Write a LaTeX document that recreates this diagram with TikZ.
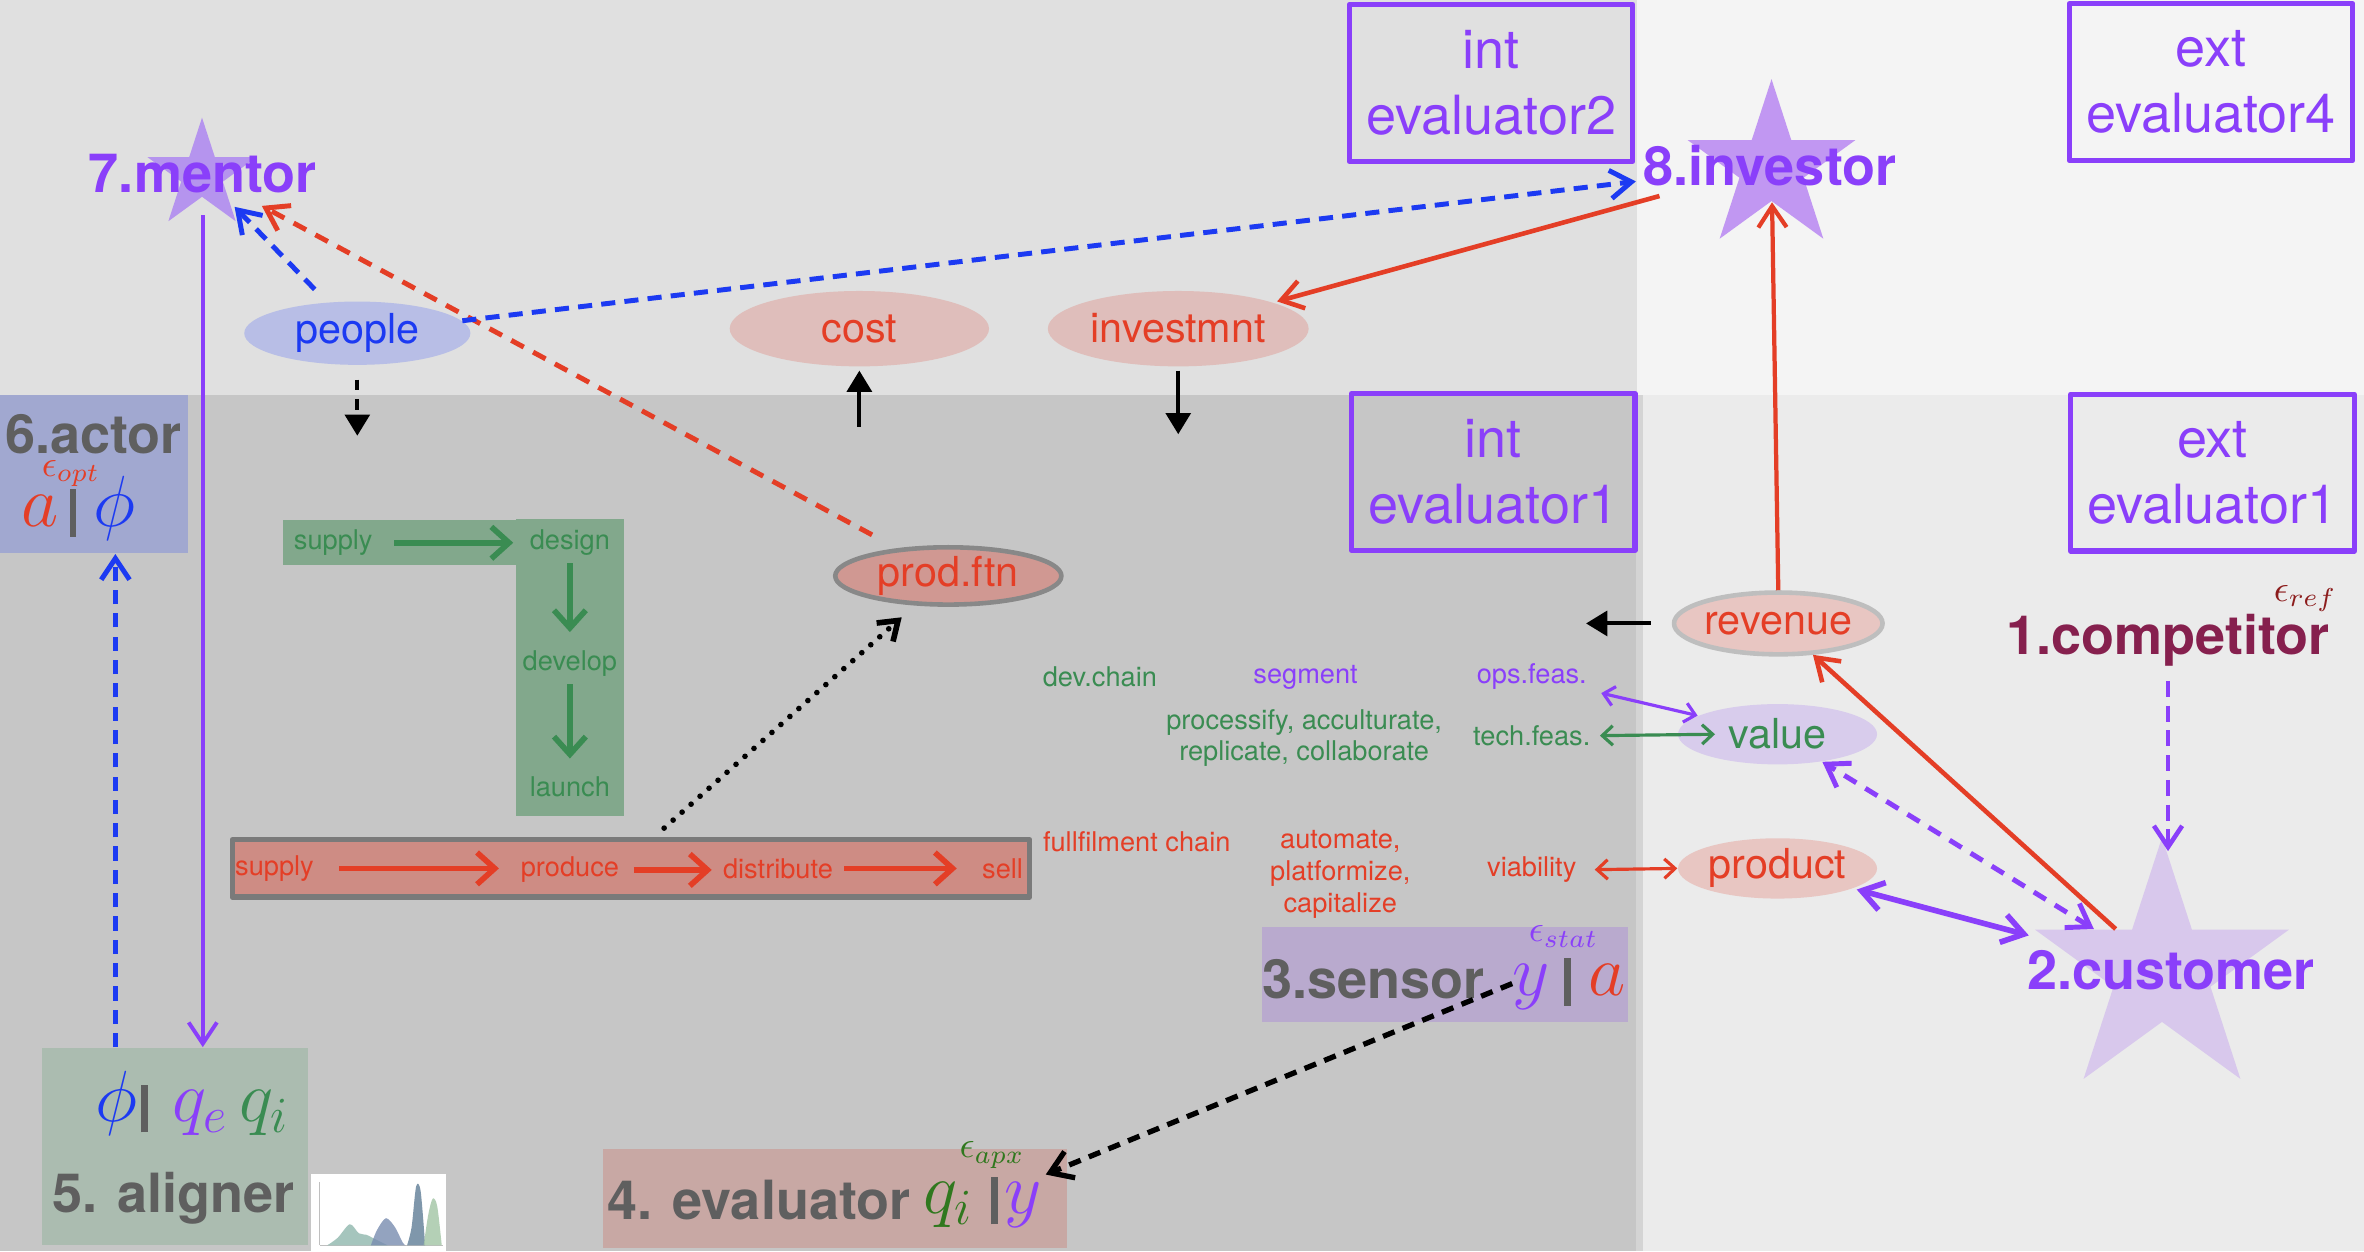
\documentclass[tikz,border=0pt]{standalone}
\usepackage{fix-cm}
\usepackage{fontspec}
\setmainfont{TeX Gyre Heros}
\usepackage{tikz}
\usetikzlibrary{arrows.meta,calc,shapes.geometric}
\usepackage{xcolor}
\definecolor{iris}{RGB}{138,63,250}
\definecolor{cobalt}{RGB}{28,58,242}
\definecolor{brick}{RGB}{228,62,38}
\definecolor{fern}{RGB}{58,140,82}
\definecolor{moss}{RGB}{48,120,30}
\definecolor{slate}{RGB}{95,95,95}
\definecolor{wine}{RGB}{134,32,78}
\definecolor{oxblood}{RGB}{140,28,28}
\definecolor{bgupper}{RGB}{224,224,224}
\definecolor{bgouter}{RGB}{244,244,244}
\definecolor{bginner}{RGB}{198,198,198}
\definecolor{bgmarket}{RGB}{235,235,235}
\definecolor{bgseam}{RGB}{212,212,212}
\definecolor{actorfill}{RGB}{161,168,208}
\definecolor{alignerfill}{RGB}{171,188,176}
\definecolor{evaluatorfill}{RGB}{200,168,164}
\definecolor{sensorfill}{RGB}{185,170,206}
\definecolor{peoplefill}{RGB}{184,190,230}
\definecolor{moneyfill}{RGB}{223,190,187}
\definecolor{ftnfill}{RGB}{208,152,146}
\definecolor{ftnedge}{RGB}{136,136,136}
\definecolor{marketfill}{RGB}{232,198,194}
\definecolor{revedge}{RGB}{190,190,190}
\definecolor{valuefill}{RGB}{216,204,236}
\definecolor{devfill}{RGB}{130,168,140}
\definecolor{fulfilfill}{RGB}{206,140,132}
\definecolor{boxedge}{RGB}{122,122,122}
\definecolor{mentorfill}{RGB}{181,148,238}
\definecolor{investorfill}{RGB}{193,151,242}
\definecolor{customerfill}{RGB}{216,200,236}
\definecolor{chartteal}{RGB}{150,188,178}
\definecolor{chartblue}{RGB}{120,140,176}
\definecolor{chartnavy}{RGB}{96,126,150}
\definecolor{chartgreen}{RGB}{168,200,170}
\newcommand{\pxu}{0.015cm}
\newcommand{\rolefont}{\fontsize{15.3}{18}\selectfont\bfseries}
\newcommand{\evalfont}{\fontsize{15.3}{18.7}\selectfont}
\newcommand{\blobfont}{\fontsize{11.7}{14}\selectfont}
\newcommand{\notefont}{\fontsize{7.7}{9}\selectfont}
\newcommand{\varfont}{\fontsize{20.5}{24}\selectfont}
\newcommand{\errfont}{\fontsize{10.5}{12}\selectfont}
\newcommand{\sepbar}{{\color{slate}\rule[-3pt]{1.8pt}{13.5pt}}}

\begin{document}
\begin{tikzpicture}[x=0.015cm,y=-0.015cm,line join=round,
  evalbox/.style={draw=iris,line width=1.5pt,text=iris,font=\evalfont,align=center,inner sep=0pt,minimum width=188*\pxu,minimum height=104*\pxu},
  rolebox/.style={inner sep=0pt},
  blob/.style={ellipse,inner sep=0pt,font=\blobfont},
  pentastar/.style={star,star points=5,star point ratio=2.618,inner sep=0pt},
  rolename/.style={font=\rolefont,inner sep=0pt,anchor=base},
  vars/.style={font=\varfont,inner sep=0pt,anchor=base west},
  errtag/.style={font=\errfont,inner sep=0pt},
  note/.style={font=\notefont,inner sep=0pt},
  barb/.style={-{Straight Barb[length=6pt,width=8pt]}},
  twobarb/.style={{Straight Barb[length=6pt,width=8pt]}-{Straight Barb[length=6pt,width=8pt]}},
  thinbarb/.style={{Straight Barb[length=3pt,width=5.5pt]}-{Straight Barb[length=3pt,width=5.5pt]},line width=0.9pt},
  chainbarb/.style={-{Straight Barb[length=5pt,width=9pt]},line width=1.6pt},
  solidhead/.style={-{Triangle[length=6pt,width=7pt]},line width=1.1pt,black},
  bluedash/.style={cobalt,line width=1.4pt,dash pattern=on 4pt off 2.6pt},
  reddash/.style={brick,line width=1.4pt,dash pattern=on 4pt off 3pt}]
\useasboundingbox (0,0) rectangle (1568,830);
\fill[bgupper] (0,0) rectangle (1086,262);
\fill[bgouter] (1086,0) rectangle (1568,262);
\fill[bginner] (0,262) rectangle (1086,830);
\fill[bgmarket] (1086,262) rectangle (1568,830);
\fill[bgseam] (1085,262) rectangle (1090,830);

\node[evalbox] (inttwo) at (989,55) {int\\evaluator2};
\node[evalbox] (extfour) at (1466.5,54.5) {ext\\evaluator4};
\node[evalbox] (intone) at (990.5,313) {int\\evaluator1};
\node[evalbox] (extone) at (1467.5,313.5) {ext\\evaluator1};

\node[pentastar,fill=mentorfill,minimum size=76*\pxu] (mentorstar) at (134,116) {};
\node[pentastar,fill=investorfill,minimum size=117*\pxu] (investorstar) at (1175,111) {};
\node[pentastar,fill=customerfill,minimum size=177*\pxu] (customerstar) at (1434,644) {};
\node[rolename,text=iris] (mentor) at (134.5,128) {7.mentor};
\node[rolename,text=iris] (investor) at (1174,123) {8.investor};
\node[rolename,text=iris] (customer) at (1440,656) {2.customer};
\node[rolename,text=wine] (competitor) at (1438,434) {1.competitor};
\node[errtag,text=oxblood] (competitorerr) at (1529,397) {$\epsilon_{ref}$};

\node[rolebox,fill=actorfill,minimum width=125*\pxu,minimum height=105*\pxu] (actor) at (62.5,314.5) {};
\node[rolebox,fill=alignerfill,minimum width=176*\pxu,minimum height=131*\pxu] (aligner) at (116,760.5) {};
\node[rolebox,fill=evaluatorfill,minimum width=308*\pxu,minimum height=66*\pxu] (evaluator) at (554,795) {};
\node[rolebox,fill=sensorfill,minimum width=243*\pxu,minimum height=63*\pxu] (sensor) at (958.5,646.5) {};

\node[rolename,text=slate] (actorname) at (62,301) {6.actor};
\node[vars] (actorvars) at (14,349) {$\color{brick}a$\hspace{3pt}\sepbar\hspace{5pt}$\color{cobalt}\phi$};
\node[errtag,text=brick] (actorerr) at (47,314) {$\epsilon_{opt}$};
\node[vars] (alignervars) at (63,744) {$\color{cobalt}\phi$\hspace{1pt}\sepbar\hspace{7pt}$\color{iris}q_e$\hspace{3pt}$\color{fern}q_i$};
\node[rolename,text=slate] (alignername) at (115,804) {5. aligner};
\node[rolename,text=slate] (evaluatorname) at (503.5,809) {4. evaluator};
\node[vars] (evaluatorvars) at (612,805) {$\color{moss}q_i$\hspace{5pt}\sepbar\hspace{2pt}$\color{iris}y$};
\node[errtag,text=moss] (evaluatorerr) at (658,766) {$\epsilon_{apx}$};
\node[rolename,text=slate] (sensorname) at (911,662) {3.sensor};
\node[vars] (sensorvars) at (1003,660) {$\color{iris}y$\hspace{4pt}\sepbar\hspace{5pt}$\color{brick}a$};
\node[errtag,text=iris] (sensorerr) at (1037,621) {$\epsilon_{stat}$};

\node[rolebox,fill=white,minimum width=90*\pxu,minimum height=51*\pxu] (chart) at (251,804.5) {};
\draw[gray!50,line width=0.3pt] (212,826) -- (294,826) (212,784) -- (212,826);
\fill[chartteal,opacity=0.85] plot[smooth] coordinates {(217,826) (224,821) (232,812) (238,818) (243,819) (249,822) (257,826)} -- cycle;
\fill[chartblue,opacity=0.8] plot[smooth] coordinates {(246,826) (250,816) (256,808) (262,814) (267,824) (269,826)} -- cycle;
\fill[chartnavy,opacity=0.8] plot[smooth] coordinates {(270,826) (273,814) (276,787) (279,790) (282,826)} -- cycle;
\fill[chartgreen,opacity=0.85] plot[smooth] coordinates {(281,826) (284,806) (287,795) (290,800) (293,826)} -- cycle;

\node[blob,fill=peoplefill,text=cobalt,minimum width=150*\pxu,minimum height=42*\pxu] (people) at (237,221) {people};
\node[blob,fill=moneyfill,text=brick,minimum width=172*\pxu,minimum height=50*\pxu] (cost) at (570,218) {cost};
\node[blob,fill=moneyfill,text=brick,minimum width=173*\pxu,minimum height=50*\pxu] (investmnt) at (781.5,218) {investmnt};
\node[blob,fill=ftnfill,draw=ftnedge,line width=1.3pt,text=brick,minimum width=150*\pxu,minimum height=38*\pxu] (prodftn) at (629,382) {prod.ftn};
\node[blob,fill=marketfill,draw=revedge,line width=1.3pt,text=brick,minimum width=135*\pxu,minimum height=41*\pxu] (revenue) at (1179.5,413.5) {revenue};
\node[blob,fill=valuefill,text=fern,minimum width=132*\pxu,minimum height=40*\pxu] (value) at (1179,487) {value};
\node[blob,fill=marketfill,text=brick,minimum width=132*\pxu,minimum height=40*\pxu] (product) at (1179,576) {product};

\fill[devfill] (188,345) rectangle (343,375);
\fill[devfill] (342,344) rectangle (414,541);
\node[note,text=fern] (devsupply) at (221,360) {supply};
\node[note,text=fern] (design) at (378,360) {design};
\node[note,text=fern] (develop) at (378,440) {develop};
\node[note,text=fern] (launch) at (378,522) {launch};
\draw[chainbarb,fern,shorten <=6pt,shorten >=4.5pt] (devsupply.east) -- (devsupply.east -| design.west);
\draw[chainbarb,fern,shorten <=2pt,shorten >=5pt] (design.south) -- (develop.north);
\draw[chainbarb,fern,shorten <=2pt,shorten >=5pt] (develop.south) -- (launch.north);

\node[rolebox,fill=fulfilfill,draw=boxedge,line width=1.5pt,minimum width=529*\pxu,minimum height=38*\pxu] (fulfil) at (418.5,576) {};
\node[note,text=brick] (redsupply) at (182,576) {supply};
\node[note,text=brick] (produce) at (378,577) {produce};
\node[note,text=brick] (distribute) at (516,576) {distribute};
\node[note,text=brick] (sell) at (665,576) {sell};
\draw[chainbarb,brick,shorten <=7pt,shorten >=6pt] (redsupply.east) -- (redsupply.east -| produce.west);
\draw[chainbarb,brick,shorten <=4pt,shorten >=3pt] (produce.east) -- (produce.east -| distribute.west);
\draw[chainbarb,brick,shorten <=3pt,shorten >=7pt] (distribute.east) -- (distribute.east -| sell.west);

\node[note,text=fern] (devchain) at (729.5,449) {dev.chain};
\node[note,text=iris] (segment) at (866,449) {segment};
\node[note,text=iris] (opsfeas) at (1016,449) {ops.feas.};
\node[note,text=fern,align=center] (devverbs) at (865,489.5) {processify, acculturate,\\replicate, collaborate};
\node[note,text=fern] (techfeas) at (1016,488) {tech.feas.};
\node[note,text=brick] (fulfilchain) at (754,558) {fullfilment chain};
\node[note,text=brick,align=center] (fulfilverbs) at (889,580) {automate,\\platformize,\\capitalize};
\node[note,text=brick] (viability) at (1016,577) {viability};

\draw[barb,iris,line width=1.1pt,shorten <=6pt] (mentor.south) -- (mentor.south |- aligner.north);
\coordinate (feedback) at ($(aligner.north west)+(49,0)$);
\draw[barb,bluedash] (feedback) -- (feedback |- actor.south);
\draw[barb,bluedash,shorten <=5pt,shorten >=5pt] (people) -- (mentor);
\draw[barb,reddash,shorten <=8pt,shorten >=7pt] (prodftn) -- (mentor);
\draw[barb,bluedash,shorten >=2pt] (people) -- (investor);
\draw[barb,brick,line width=1.3pt,shorten <=10pt,shorten >=1pt] (investor) -- (investmnt);
\draw[barb,brick,line width=1.2pt] (revenue.north) -- (investorstar);
\draw[barb,brick,line width=1.3pt] (customerstar) -- (revenue);
\draw[barb,iris,line width=1.3pt,dash pattern=on 4.5pt off 2.5pt,shorten <=4pt,shorten >=-4.5pt] (competitor.south) -- (competitor.south |- customerstar.north);
\draw[twobarb,iris,line width=1.4pt,dash pattern=on 4pt off 3pt] (customerstar) -- (value);
\draw[twobarb,iris,line width=1.6pt,shorten <=1pt,shorten >=6pt] (product) -- (customerstar);
\draw[thinbarb,iris,shorten <=4pt] (opsfeas) -- (value);
\draw[thinbarb,fern,shorten <=2.5pt] (techfeas.east) -- ($(value.west)+(25,0)$);
\draw[thinbarb,brick,shorten <=5pt] (viability.east) -- (product.west);
\coordinate (revleft) at (1052,413.5);
\draw[solidhead,shorten <=6pt] (revenue.west) -- (revleft);
\coordinate (costfoot) at (570,283);
\draw[solidhead,shorten >=1pt] (costfoot) -- (cost.south);
\coordinate (investfoot) at (781.5,288);
\draw[solidhead,shorten <=1pt] (investmnt.south) -- (investfoot);
\coordinate (peoplefoot) at (237,289);
\draw[solidhead,dash pattern=on 3pt off 2.5pt,shorten <=4pt] (people.south) -- (peoplefoot);
\coordinate (dotfrom) at ($(fulfil.north)+(22,-6)$);
\draw[-{Straight Barb[length=5pt,width=7pt]},line width=1.6pt,line cap=round,dash pattern=on 0pt off 3.4pt,shorten >=5pt] (dotfrom) -- (prodftn);
\draw[barb,black,line width=1.5pt,dash pattern=on 3.5pt off 2.5pt,shorten >=1pt] (sensorvars.west) -- (evaluatorvars.north east);
\end{tikzpicture}
\end{document}
